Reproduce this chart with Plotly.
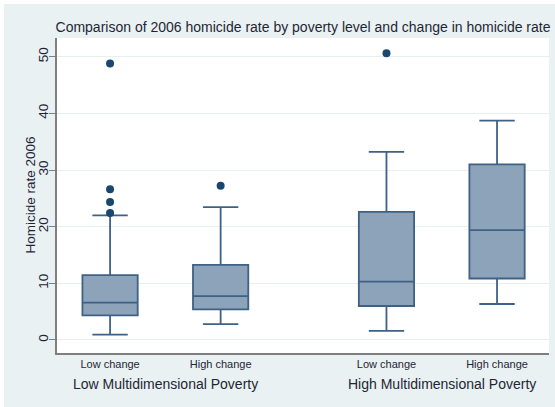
import plotly.graph_objects as go

# Box summary statistics of the 2006 homicide rate, per poverty level x change group
positions = [0, 1, 2.5, 3.5]
change_labels = ["Low change", "High change", "Low change", "High change"]
group_labels = ["Low Multidimensional Poverty", "High Multidimensional Poverty"]
group_centers = [0.5, 3.0]

q1 = [4.35, 5.4, 6.0, 10.85]
median = [6.6, 7.75, 10.3, 19.4]
q3 = [11.45, 13.25, 22.6, 31.0]
lower_whisker = [0.95, 2.8, 1.6, 6.35]
upper_whisker = [22.0, 23.45, 33.2, 38.7]

# Outside values (x position, homicide rate)
outlier_x = [0, 0, 0, 0, 1, 2.5]
outlier_y = [22.4, 24.35, 26.6, 48.8, 27.2, 50.6]

y_ticks = [0, 10, 20, 30, 40, 50]

BG = "#EAF1F3"
FILL = "#8DA3B9"
EDGE = "#3E6186"
DOT = "#1A476F"
TEXT = "#1E2633"
FONT = "Liberation Sans, Arial, Helvetica, sans-serif"

W, H = 555, 407
L, R, T, B = 57, 6, 38, 54
pw, ph = W - L - R, H - T - B

def px_x(p):
    return (p - L) / pw

def px_y(p):
    return (H - B - p) / ph

fig = go.Figure()

fig.add_trace(go.Box(
    x=positions,
    q1=q1, median=median, q3=q3,
    lowerfence=lower_whisker, upperfence=upper_whisker,
    width=0.5, whiskerwidth=0.64,
    fillcolor=FILL,
    line=dict(color=EDGE, width=1.8),
    boxpoints=False,
    hoverinfo="skip",
    showlegend=False,
))

fig.add_trace(go.Scatter(
    x=outlier_x, y=outlier_y, mode="markers",
    marker=dict(color=DOT, size=8),
    hoverinfo="skip", showlegend=False,
))

annotations = [
    dict(text=g, x=c, xref="x", y=px_y(384), yref="paper",
         showarrow=False, font=dict(size=14, color=TEXT, family=FONT),
         xanchor="center", yanchor="middle")
    for g, c in zip(group_labels, group_centers)
]
annotations.append(dict(
    text="Homicide rate 2006", textangle=-90,
    x=px_x(30), xref="paper", y=0.5, yref="paper",
    showarrow=False, font=dict(size=13.5, color=TEXT, family=FONT),
    xanchor="center", yanchor="middle"))

# white edge strips along the top and left of the light page background
edge_strips = [
    dict(type="rect", xref="paper", yref="paper",
         x0=px_x(-2), x1=px_x(W + 2), y0=px_y(4), y1=px_y(-2),
         fillcolor="white", line=dict(width=0), layer="above"),
    dict(type="rect", xref="paper", yref="paper",
         x0=px_x(-2), x1=px_x(4), y0=px_y(H + 2), y1=px_y(-2),
         fillcolor="white", line=dict(width=0), layer="above"),
]

fig.update_layout(
    width=W, height=H,
    margin=dict(l=L, r=R, t=T, b=B, autoexpand=False),
    paper_bgcolor=BG,
    plot_bgcolor="white",
    font=dict(family=FONT, color=TEXT),
    title=dict(
        text="Comparison of 2006 homicide rate by poverty level and change in homicide rate",
        xref="container", x=303 / W, xanchor="center",
        yref="container", y=1 - 27 / H, yanchor="middle",
        font=dict(size=14, color=TEXT, family=FONT),
    ),
    shapes=edge_strips,
    annotations=annotations,
    xaxis=dict(
        range=[-0.48, 3.97],
        tickmode="array", tickvals=positions, ticktext=change_labels,
        tickfont=dict(size=11, color=TEXT, family=FONT),
        ticks="", showgrid=False, zeroline=False,
        showline=True, linecolor="#7F7F7F", linewidth=2,
    ),
    yaxis=dict(
        range=[-2.3, 53.3],
        tickmode="array", tickvals=y_ticks,
        tickangle=-90,
        tickfont=dict(size=13.5, color=TEXT, family=FONT),
        ticks="outside", ticklen=6, tickcolor="#7F7F7F", tickwidth=1,
        ticklabelstandoff=-4,
        showgrid=True, gridcolor="#E8EFF1", gridwidth=1,
        zeroline=False,
        showline=True, linecolor="#7F7F7F", linewidth=2,
    ),
)

fig.write_html("out.html")
